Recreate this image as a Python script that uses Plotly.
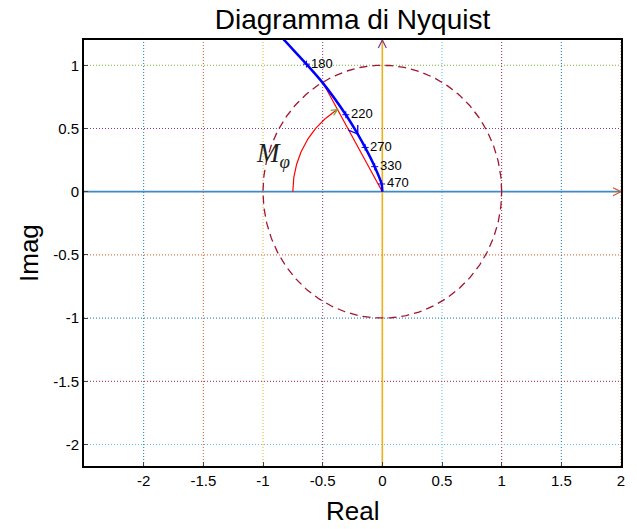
import numpy as np
import plotly.graph_objects as go

# ---- data ----
re_curve = [-0.87, -0.817, -0.636, -0.4975, -0.306, -0.206, -0.144, -0.064, -0.006, 0.0]
im_curve = [1.25, 1.194, 1.009, 0.859, 0.609, 0.456, 0.350, 0.198, 0.061, 0.0]

freq_labels = ["180", "220", "270", "330", "470"]
freq_re = [-0.636, -0.306, -0.144, -0.064, -0.006]
freq_im = [1.009, 0.609, 0.350, 0.198, 0.061]

pm_point = (-0.5, 0.866)          # crossing with unit circle
arc_radius = 0.75
arc_deg = (180.0, 120.0)
dir_arrow_point = (-0.206, 0.456)

x_ticks = [-2, -1.5, -1, -0.5, 0, 0.5, 1, 1.5, 2]
y_ticks = [-2, -1.5, -1, -0.5, 0, 0.5, 1]
x_range = [-2.5, 2.0]
y_range = [-2.17, 1.2]

C = ["#0072BD", "#D95319", "#EDB120", "#7E2F8E", "#77AC30", "#4DBEEE", "#A2142F"]
x_grid_colors = [C[0], C[1], C[2], C[3], C[4], C[5], C[6], C[0], C[1]]
y_grid_colors = [C[5], C[6], C[0], C[1], C[2], C[3], C[4]]

FONT = "Liberation Sans, Arial, sans-serif"

fig = go.Figure()

# unit circle
th = np.linspace(0, 2 * np.pi, 400)
fig.add_trace(go.Scatter(x=np.cos(th), y=np.sin(th), mode="lines",
                         line=dict(color="#A2142F", width=1.3, dash="8px,5px"),
                         hoverinfo="skip"))
# red phase margin line
fig.add_trace(go.Scatter(x=[0, pm_point[0]], y=[0, pm_point[1]], mode="lines",
                         line=dict(color="#FF0000", width=1.2), hoverinfo="skip"))
# red arc
ta = np.radians(np.linspace(arc_deg[0], arc_deg[1], 60))
fig.add_trace(go.Scatter(x=arc_radius * np.cos(ta), y=arc_radius * np.sin(ta), mode="lines",
                         line=dict(color="#FF0000", width=1.2), hoverinfo="skip"))
# Nyquist curve
fig.add_trace(go.Scatter(x=re_curve, y=im_curve, mode="lines",
                         line=dict(color="#0000FF", width=2.5, shape="spline", smoothing=0.6),
                         hoverinfo="skip"))
# frequency markers
fig.add_trace(go.Scatter(x=freq_re, y=freq_im, mode="markers",
                         marker=dict(symbol="cross-thin", size=5,
                                     line=dict(color="#0000FF", width=1)),
                         hoverinfo="skip"))

shapes = []
for v, c in zip(x_ticks, x_grid_colors):
    shapes.append(dict(type="line", xref="x", yref="paper", x0=v, x1=v, y0=0, y1=1,
                       line=dict(color=c, width=1, dash="1px,2px"), opacity=0.95, layer="below"))
for v, c in zip(y_ticks, y_grid_colors):
    shapes.append(dict(type="line", xref="paper", yref="y", x0=0, x1=1, y0=v, y1=v,
                       line=dict(color=c, width=1, dash="1px,2px"), opacity=0.95, layer="below"))
# axis lines
shapes.append(dict(type="line", xref="paper", yref="y", x0=0, x1=1, y0=0, y1=0,
                   line=dict(color="#3E8AC4", width=1.8), layer="below"))
shapes.append(dict(type="line", xref="x", yref="paper", x0=0, x1=0, y0=0, y1=1,
                   line=dict(color="#EDB120", width=1.6), layer="below"))

def chevron(ax, ay, path, color, width=1.2):
    return dict(type="path", xref="x", yref="y", xsizemode="pixel", ysizemode="pixel",
                xanchor=ax, yanchor=ay, path=path, line=dict(color=color, width=width))

shapes.append(chevron(0, y_range[1], "M -4,-8 L 0,0 L 4,-8", C[3]))
shapes.append(chevron(x_range[1], 0, "M -8,4 L 0,0 L -8,-4", C[1]))
shapes.append(chevron(dir_arrow_point[0], dir_arrow_point[1], "M 0,9 L 0,0 L -9.3,4", "#0000FF", 1.3))

# arc-end arrow (green)
tip_t = np.radians(arc_deg[1])
tip = (arc_radius * np.cos(tip_t), arc_radius * np.sin(tip_t))
d = np.array([np.sin(tip_t) * 120, -np.cos(tip_t) * 126.5])
d = d / np.linalg.norm(d)
arms = []
for a in (np.radians(25), -np.radians(25)):
    rot = np.array([[np.cos(a), -np.sin(a)], [np.sin(a), np.cos(a)]])
    arms.append(-7 * rot @ d)
p = f"M {arms[0][0]:.2f},{arms[0][1]:.2f} L 0,0 L {arms[1][0]:.2f},{arms[1][1]:.2f}"
shapes.append(chevron(tip[0], tip[1], p, C[4], 1.2))

annotations = []
for lab, x, y in zip(freq_labels, freq_re, freq_im):
    annotations.append(dict(x=x, y=y, text=lab, showarrow=False, xanchor="left",
                            yanchor="middle", xshift=3, yshift=1,
                            font=dict(family=FONT, size=13, color="black")))
annotations.append(dict(x=-1.075, y=0.29, text="<i>M</i><sub><i>φ</i></sub>",
                        showarrow=False, xanchor="left", yanchor="middle",
                        font=dict(family="Liberation Serif, Times New Roman, serif", size=27, color="#222")))
annotations.append(dict(x=0.5, y=0, xref="paper", yref="paper", text="Real", showarrow=False,
                        xanchor="center", yanchor="middle", yshift=-45,
                        font=dict(family=FONT, size=26, color="black")))
annotations.append(dict(x=0, y=0.5, xref="paper", yref="paper", text="Imag", showarrow=False,
                        xanchor="center", yanchor="middle", xshift=-55, textangle=-90,
                        font=dict(family=FONT, size=26, color="black")))

fig.update_layout(
    width=637, height=529,
    margin=dict(l=84, r=13, t=40, b=63),
    paper_bgcolor="white", plot_bgcolor="white",
    showlegend=False,
    title=dict(text="Diagramma di Nyquist", x=0.5, xref="paper", xanchor="center",
               y=1 - 19 / 529, yref="container", yanchor="middle",
               font=dict(family=FONT, size=28, color="black")),
    shapes=shapes,
    annotations=annotations,
    xaxis=dict(range=x_range, tickvals=x_ticks, ticktext=[f"{v:g}" for v in x_ticks],
               showgrid=False, zeroline=False, showline=True, linecolor="black", linewidth=1.8,
               mirror=True, ticks="inside", ticklen=4, tickcolor="#444",
               tickfont=dict(family=FONT, size=15, color="black")),
    yaxis=dict(range=y_range, tickvals=y_ticks, ticktext=[f"{v:g}" for v in y_ticks],
               showgrid=False, zeroline=False, showline=True, linecolor="black", linewidth=1.8,
               mirror=True, ticks="inside", ticklen=4, tickcolor="#444",
               tickfont=dict(family=FONT, size=15, color="black")),
)

fig.write_html("out.html")
